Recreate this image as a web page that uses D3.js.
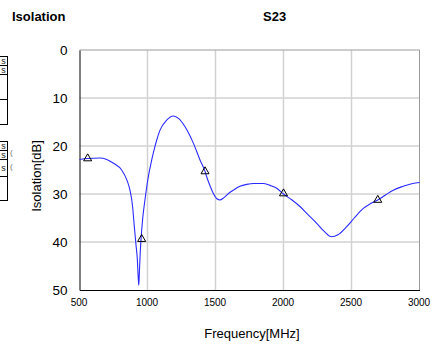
<!DOCTYPE html>
<html>
<head>
<meta charset="utf-8">
<script src="https://cdn.jsdelivr.net/npm/d3@7"></script>
<style>
  html, body { margin: 0; padding: 0; background: #fff; }
  svg { display: block; font-family: "Liberation Sans", Arial, sans-serif; }
</style>
</head>
<body>
<svg id="chart" width="436" height="347"></svg>
<script>
const chartTitle = "Isolation";
const seriesTitle = "S23";
const xLabel = "Frequency[MHz]";
const yLabel = "Isolation[dB]";
const xTicks = [500, 1000, 1500, 2000, 2500, 3000];
const yTicks = [0, 10, 20, 30, 40, 50];

const freq = [500, 560, 650, 700, 750, 810, 850, 871, 890, 901, 915, 925, 932, 936, 940, 946, 952, 965, 981, 1006, 1031, 1055, 1068, 1092, 1141, 1190, 1230, 1276, 1337, 1386, 1423, 1435, 1460, 1484, 1510, 1533, 1560, 1600, 1631, 1680, 1729, 1780, 1851, 1900, 1950, 2000, 2060, 2121, 2180, 2244, 2300, 2354, 2400, 2465, 2520, 2587, 2640, 2693, 2750, 2807, 2880, 2950, 3000];
const isolation = [22.8, 22.6, 22.5, 22.8, 23.6, 25.0, 27.2, 29.2, 32.5, 36.1, 40.5, 43.5, 47.5, 49.0, 46.5, 42.5, 39.6, 35.0, 31.3, 26.4, 22.9, 20.1, 18.75, 16.7, 14.6, 13.75, 14.3, 16.0, 19.4, 22.9, 25.3, 26.4, 28.3, 29.9, 31.0, 31.25, 30.8, 29.8, 29.2, 28.4, 28.0, 27.8, 27.8, 28.2, 28.8, 30.0, 31.2, 32.6, 34.3, 36.1, 37.8, 38.9, 38.5, 36.8, 35.0, 33.0, 32.0, 31.25, 30.2, 29.2, 28.4, 27.8, 27.6];

const markerFreq = [560, 957, 1423, 2000, 2693];
const markerValue = [22.6, 39.4, 25.3, 29.9, 31.25];

// remnants of a neighbouring table cut off at the left edge
const tableRowsA = [56, 65, 74, 99, 124];
const tableTextA = ["s", "s", "", ""];
const tableRowsB = [141, 150, 159, 176, 200];
const tableTextB = ["s", "s", "s", ""];

const svg = d3.select("#chart");
const m = { left: 79.5, right: 419.5, top: 50, bottom: 290 };

const x = d3.scaleLinear().domain([500, 3000]).range([m.left, m.right]);
const y = d3.scaleLinear().domain([0, 50]).range([m.top, m.bottom]);

// table remnants
function drawTable(rows, texts) {
  const g = svg.append("g");
  for (let i = 0; i < rows.length - 1; i++) {
    g.append("rect").attr("x", -10).attr("y", rows[i] + 0.5)
      .attr("width", 17.5).attr("height", rows[i + 1] - rows[i])
      .attr("fill", "none").attr("stroke", "#000").attr("stroke-width", 1);
    if (texts[i]) {
      g.append("text").attr("x", 3.5).attr("y", (rows[i] + rows[i + 1]) / 2 + 3.5)
        .attr("text-anchor", "middle").attr("font-size", 9).attr("fill", "#222").text(texts[i]);
    }
  }
}
drawTable(tableRowsA, tableTextA);
drawTable(tableRowsB, tableTextB);
svg.append("text").attr("x", 10).attr("y", 155).attr("font-size", 8).attr("fill", "#777").text("(");
svg.append("text").attr("x", 10).attr("y", 169).attr("font-size", 8).attr("fill", "#777").text("(");

// titles
svg.append("text").attr("x", 12).attr("y", 20.5).attr("font-size", 13).attr("font-weight", "bold").text(chartTitle);
svg.append("text").attr("x", 263).attr("y", 20.5).attr("font-size", 13).attr("font-weight", "bold").text(seriesTitle);

// grid
const grid = svg.append("g");
grid.selectAll("line.v").data(xTicks.slice(1, -1)).enter().append("line")
  .attr("x1", d => x(d)).attr("x2", d => x(d)).attr("y1", m.top).attr("y2", m.bottom)
  .attr("stroke", "#d2d2d2").attr("stroke-width", 1.5);
grid.selectAll("line.h").data(yTicks.slice(1, -1)).enter().append("line")
  .attr("x1", m.left).attr("x2", m.right).attr("y1", d => y(d)).attr("y2", d => y(d))
  .attr("stroke", "#d2d2d2").attr("stroke-width", 1.5);

// frame: top & right grey, left & bottom black
svg.append("line").attr("x1", m.left).attr("x2", m.right).attr("y1", m.top).attr("y2", m.top)
  .attr("stroke", "#9a9a9a").attr("stroke-width", 1);
svg.append("line").attr("x1", m.right).attr("x2", m.right).attr("y1", m.top).attr("y2", m.bottom)
  .attr("stroke", "#9a9a9a").attr("stroke-width", 1);

// axes
const xAxis = d3.axisBottom(x).tickValues(xTicks).tickFormat(d3.format("d")).tickSize(0).tickPadding(9);
const gx = svg.append("g").attr("transform", `translate(0,${m.bottom})`).call(xAxis);
gx.select(".domain").attr("stroke", "#000");
gx.selectAll("text").attr("font-size", 10).attr("font-family", "Liberation Sans, Arial, sans-serif").attr("fill", "#000").attr("dx", -1);

const yAxis = d3.axisLeft(y).tickValues(yTicks).tickSize(0).tickPadding(12);
const gy = svg.append("g").attr("transform", `translate(${m.left},0)`).call(yAxis);
gy.select(".domain").attr("stroke", "#000");
gy.selectAll("text").attr("font-size", 13.5).attr("font-family", "Liberation Sans, Arial, sans-serif").attr("fill", "#000");

// axis labels
svg.append("text").attr("x", 252).attr("y", 338).attr("text-anchor", "middle")
  .attr("font-size", 13).text(xLabel);
svg.append("text").attr("transform", "translate(41,176) rotate(-90)").attr("text-anchor", "middle")
  .attr("font-size", 13).text(yLabel);

// curve
const pts = freq.map((f, i) => [f, isolation[i]]);
const line = d3.line().x(d => x(d[0])).y(d => y(d[1])).curve(d3.curveMonotoneX);
svg.append("path").datum(pts).attr("d", line)
  .attr("fill", "none").attr("stroke", "#2a2aff").attr("stroke-width", 1.1);

// markers
const tri = d3.symbol().type(d3.symbolTriangle).size(28);
svg.selectAll("path.mk").data(markerFreq.map((f, i) => [f, markerValue[i]])).enter()
  .append("path").attr("class", "mk").attr("d", tri)
  .attr("transform", d => `translate(${x(d[0])},${y(d[1])})`)
  .attr("fill", "none").attr("stroke", "#000").attr("stroke-width", 1);
</script>
</body>
</html>
